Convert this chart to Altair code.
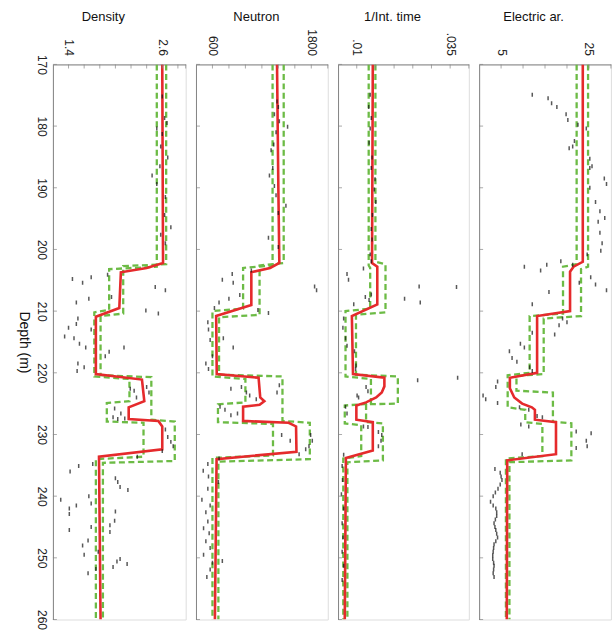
import altair as alt
import pandas as pd

DEPTH_DOMAIN = [170, 260]
DEPTH_TICKS = [170, 180, 190, 200, 210, 220, 230, 240, 250, 260]

# ---------------- Density ----------------
DEN_DOMAIN = [1.2, 2.9]
DEN_LABELS = [1.4, 2.6]
DEN_MINOR = [1.4, 1.6, 1.8, 2.0, 2.2, 2.4, 2.6, 2.8, 2.9]
DEN_RED = [(170, 2.60), (202.2, 2.61), (203.0, 2.40), (203.7, 2.07), (209.5, 2.05), (210.9, 1.75),
           (220.2, 1.75), (221.1, 2.34), (224.6, 2.37), (225.6, 2.17), (227.5, 2.17), (227.8, 2.55),
           (228.7, 2.60), (232.4, 2.60), (233.6, 1.79), (260, 1.81)]
DEN_LO = [(170, 2.53), (202.8, 2.53), (203.2, 1.92), (209.8, 1.92), (210.2, 1.73), (220.6, 1.73),
          (221.0, 2.18), (224.6, 2.18), (224.9, 1.89), (227.9, 1.89), (228.1, 2.36), (233.6, 2.36),
          (234.0, 1.75), (260, 1.75)]
DEN_HI = [(170, 2.65), (202.4, 2.65), (202.7, 2.10), (210.4, 2.10), (210.8, 1.81), (220.4, 1.81),
          (220.7, 2.46), (227.6, 2.46), (227.9, 2.76), (234.3, 2.76), (234.6, 1.84), (260, 1.84)]
DEN_PTS = [(175.2, 2.60), (178.7, 2.63), (179.5, 2.66), (180.4, 2.53), (181.3, 2.60), (183.3, 2.58),
           (185.1, 2.67), (186.5, 2.57), (188.0, 2.47), (189.4, 2.53), (191.5, 2.64), (194.4, 2.63),
           (196.4, 2.71), (197.6, 2.58), (199.0, 2.64),
           (204.8, 1.45), (205.4, 1.58), (204.5, 1.69), (204.1, 1.90), (206.1, 2.51), (206.6, 2.64),
           (208.6, 1.50), (208.0, 1.66), (207.7, 1.95), (209.9, 2.39), (210.4, 2.55),
           (211.2, 1.52), (212.1, 1.50), (212.7, 1.40), (214.1, 1.35), (214.4, 1.47), (215.3, 1.54),
           (215.9, 1.62), (213.0, 1.69), (217.3, 1.87), (216.6, 1.92), (215.9, 2.11), (218.5, 1.52),
           (219.1, 1.60), (219.7, 1.51),
           (222.6, 2.19), (222.9, 2.24), (222.3, 2.40), (223.2, 2.43), (224.0, 2.27), (225.8, 1.99),
           (226.6, 2.07), (227.4, 2.12), (227.2, 1.97), (227.5, 2.03),
           (229.2, 2.64), (230.4, 2.67), (231.2, 2.71), (231.9, 2.74), (232.7, 2.60), (233.6, 2.28),
           (234.8, 1.71), (235.1, 1.53), (236.0, 1.42), (237.1, 2.00), (237.7, 2.03), (238.5, 2.06),
           (239.0, 2.16), (240.6, 1.30), (240.0, 1.66), (241.2, 1.69), (241.5, 1.50), (242.0, 1.41),
           (242.9, 1.41), (242.5, 2.00), (244.0, 1.99), (244.7, 1.93), (245.5, 1.41), (245.0, 1.69),
           (245.8, 1.93), (247.2, 1.65), (248.0, 1.58), (249.5, 1.60), (249.0, 1.78), (250.2, 2.06),
           (250.6, 2.02), (251.5, 1.97), (251.0, 2.15), (252.5, 1.65), (251.8, 1.75)]

# ---------------- Neutron ----------------
NEU_DOMAIN = [400, 2000]
NEU_LABELS = [600, 1800]
NEU_MINOR = [600, 800, 1000, 1200, 1400, 1600, 1800, 2000]
NEU_RED = [(170, 1384), (180, 1392), (190, 1400), (202.2, 1412), (203.0, 1300), (203.7, 1072),
           (209.0, 1072), (210.8, 645), (220.2, 652), (220.8, 1160), (224.0, 1180), (224.6, 1230),
           (225.2, 1172), (225.5, 972), (227.8, 972), (228.1, 1525), (228.7, 1615), (232.8, 1620),
           (234.0, 650), (260, 630)]
NEU_LO = [(170, 1330), (202.6, 1330), (203.0, 972), (209.6, 972), (210.0, 600), (220.6, 600),
          (221.0, 1000), (224.8, 1000), (225.1, 667), (228.0, 667), (228.3, 1335), (233.4, 1335),
          (233.8, 600), (260, 600)]
NEU_HI = [(170, 1465), (202.2, 1465), (202.6, 1172), (210.6, 1172), (211.0, 680), (220.3, 680),
          (220.6, 1450), (227.8, 1450), (228.1, 1782), (234.0, 1782), (234.4, 672), (260, 672)]
NEU_PTS = [(176.0, 1384), (176.9, 1400), (178.1, 1352), (179.2, 1412), (180.1, 1512), (181.0, 1372),
           (183.0, 1344), (183.9, 1312), (188.0, 1292), (186.8, 1332), (189.7, 1352), (191.2, 1372),
           (192.9, 1492), (194.1, 1400), (198.1, 1280), (199.6, 1400),
           (203.4, 1072), (204.0, 840), (204.9, 720), (205.4, 852), (207.4, 932), (208.0, 800),
           (208.6, 680), (209.5, 624), (206.0, 1840), (206.6, 1864), (210.3, 1280), (209.8, 1152),
           (211.8, 544), (213.0, 552), (214.7, 572), (214.4, 732), (215.9, 852), (217.3, 600),
           (218.5, 520), (219.4, 552),
           (222.6, 824), (222.3, 952), (223.2, 1012), (223.7, 1052), (224.3, 1132), (222.0, 1412),
           (223.2, 1384), (225.5, 692), (226.0, 752), (226.9, 824), (226.6, 904),
           (230.1, 1440), (231.0, 1544), (230.1, 1792), (231.0, 1812), (231.9, 1772), (232.4, 1732),
           (233.2, 1652), (233.9, 680),
           (234.8, 544), (235.9, 488), (236.8, 552), (237.7, 672), (238.8, 544), (240.6, 472),
           (241.5, 572), (242.6, 520), (244.1, 544), (245.2, 492), (246.0, 560), (247.3, 520),
           (248.4, 572), (249.5, 492), (250.5, 720), (250.8, 600), (251.9, 572), (253.1, 532)]

# ---------------- 1/Int. time ----------------
INT_DOMAIN = [0.005, 0.04]
INT_LABELS = [0.01, 0.035]
INT_MINOR = [0.01, 0.015, 0.02, 0.025, 0.03, 0.035, 0.04]
INT_RED = [(170, 0.0143), (202.2, 0.0141), (202.8, 0.0155), (208.9, 0.0155), (210.8, 0.0087),
           (220.2, 0.0090), (220.8, 0.0174), (222.2, 0.0174), (223.2, 0.0167), (224.0, 0.0152),
           (224.8, 0.0125), (225.3, 0.0099), (227.6, 0.0099), (228.0, 0.0143), (232.6, 0.0143),
           (233.8, 0.0071), (260, 0.0068)]
INT_LO = [(170, 0.0132), (202.6, 0.0132), (203.0, 0.0136), (209.6, 0.0136), (210.0, 0.0070),
          (220.6, 0.0070), (221.0, 0.0138), (225.0, 0.0138), (225.3, 0.0068), (228.2, 0.0068),
          (228.5, 0.0112), (233.5, 0.0112), (233.9, 0.0064), (260, 0.0064)]
INT_HI = [(170, 0.0150), (202.0, 0.0150), (202.4, 0.0177), (210.2, 0.0177), (210.6, 0.0098),
          (220.3, 0.0098), (220.6, 0.0210), (225.0, 0.0210), (225.1, 0.0125), (228.0, 0.0125),
          (228.2, 0.0170), (234.2, 0.0170), (234.5, 0.0075), (260, 0.0075)]
INT_PTS = [(174.9, 0.0136), (176.9, 0.0132), (178.7, 0.0139), (180.4, 0.0136), (182.7, 0.0133),
           (185.1, 0.0141), (186.8, 0.0139), (188.6, 0.0149), (190.3, 0.0147), (192.3, 0.0151),
           (194.4, 0.0142), (196.7, 0.0139), (198.4, 0.0141), (200.8, 0.0136), (201.9, 0.0139),
           (204.0, 0.0074), (204.9, 0.0078), (203.1, 0.0118), (207.7, 0.0123), (207.3, 0.0139),
           (208.2, 0.0133), (208.9, 0.0092), (206.0, 0.0267), (206.1, 0.0367), (208.0, 0.0228),
           (208.6, 0.0270),
           (211.2, 0.0065), (212.7, 0.0063), (214.4, 0.0070), (215.6, 0.0074), (216.5, 0.0094),
           (218.8, 0.0098), (219.4, 0.0097),
           (221.2, 0.0263), (220.8, 0.0370), (222.3, 0.0125), (223.0, 0.0130), (223.7, 0.0101),
           (224.0, 0.0105), (225.5, 0.0070), (226.6, 0.0074), (228.7, 0.0118), (228.8, 0.0130),
           (229.6, 0.0158), (230.1, 0.0167), (231.0, 0.0165), (231.9, 0.0158), (233.3, 0.0065),
           (235.1, 0.0061), (237.4, 0.0062), (239.7, 0.0059), (242.0, 0.0065), (244.4, 0.0061),
           (246.7, 0.0063), (249.0, 0.0061), (251.3, 0.0065), (253.6, 0.0061)]

# ---------------- Electric ar. ----------------
ELE_DOMAIN = [0, 30]
ELE_LABELS = [5, 25]
ELE_MINOR = [5, 10, 15, 20, 25, 30]
ELE_RED = [(170, 23.6), (202.0, 23.6), (202.8, 21.5), (203.6, 20.7), (210.0, 20.7), (210.8, 13.2),
           (220.0, 13.2), (220.8, 7.0), (222.5, 7.0), (224.0, 8.0), (225.0, 9.8), (225.6, 12.0),
           (226.0, 12.7), (227.6, 12.7), (228.0, 17.5), (233.2, 17.5), (234.2, 6.4), (260, 6.3)]
ELE_LO = [(170, 22.2), (202.4, 22.2), (202.8, 19.1), (210.4, 19.1), (210.8, 11.5), (220.0, 11.5),
          (220.4, 6.5), (225.6, 6.5), (226.0, 10.5), (228.0, 10.5), (228.3, 14.4), (233.5, 14.4),
          (233.9, 6.1), (260, 6.1)]
ELE_HI = [(170, 24.8), (202.8, 24.8), (203.2, 23.2), (210.8, 23.2), (211.2, 14.7), (220.2, 14.7),
          (220.5, 8.5), (222.9, 8.5), (223.2, 16.8), (227.9, 16.8), (228.2, 21.0), (234.2, 21.0),
          (234.5, 6.9), (260, 6.9)]
ELE_PTS = [(174.9, 12.1), (175.5, 15.7), (176.3, 16.5), (176.9, 17.7), (178.1, 19.8), (179.0, 20.2),
           (179.8, 22.5), (180.4, 24.4), (182.4, 21.7), (183.3, 21.3), (183.6, 20.5), (185.3, 25.2),
           (186.5, 25.7), (186.8, 25.2), (188.5, 28.5), (189.4, 29.0), (190.0, 25.2), (192.3, 26.5),
           (193.8, 27.5), (194.9, 28.6), (195.5, 27.1), (197.3, 27.5), (199.0, 28.0), (200.2, 27.7),
           (200.8, 24.6),
           (202.8, 10.3), (203.4, 14.0), (202.5, 15.4), (201.9, 18.6), (202.5, 21.3), (204.5, 25.4),
           (205.7, 26.5), (206.6, 29.0), (205.4, 22.8), (206.9, 15.9), (208.9, 12.1), (211.2, 19.0),
           (211.8, 20.0), (212.3, 18.2), (213.8, 17.2),
           (213.5, 12.1), (215.3, 9.4), (215.9, 10.3), (216.5, 6.9), (217.6, 7.5), (218.2, 8.6),
           (219.1, 11.5), (219.7, 12.1),
           (221.4, 4.2), (222.3, 3.8), (223.7, 0.9), (224.3, 1.5), (224.9, 4.2), (225.6, 9.2),
           (226.0, 11.3), (227.0, 13.2), (227.2, 14.4), (228.4, 9.5), (228.7, 11.3),
           (229.5, 22.1), (229.8, 25.5), (231.0, 24.4), (232.2, 22.1), (231.9, 24.6), (233.2, 9.8),
           (235.6, 3.6), (236.2, 4.8), (236.8, 5.0), (237.4, 5.2), (238.1, 4.8), (238.8, 4.3),
           (239.4, 3.7), (240.0, 3.2), (240.9, 2.6), (241.5, 3.2), (242.0, 3.8), (242.6, 4.0),
           (243.2, 4.0), (243.8, 3.7), (244.4, 3.4), (245.0, 3.6), (245.5, 3.8), (246.1, 4.0),
           (246.7, 4.2), (247.3, 3.8), (247.8, 3.4), (248.4, 3.3), (249.0, 3.2), (249.6, 3.1),
           (250.2, 3.1), (250.8, 3.3), (251.3, 3.4), (251.9, 3.3), (252.5, 3.2), (253.1, 3.4)]

RED = "#e52a2c"
GREEN = "#6cbb45"
AXC = "#858585"
FONT = "Liberation Sans"
PANEL_H = 556


def path_df(pairs, name):
    return pd.DataFrame({"series": name, "idx": list(range(len(pairs))),
                         "depth": [p[0] for p in pairs], "value": [p[1] for p in pairs]})


def panel(name, domain, labels, minor, red, lo, hi, pts, label_fmt, title_x, width,
          first=False, strip_zero=False):
    xs = alt.Scale(domain=domain, nice=False, zero=False)
    ys = alt.Scale(domain=DEPTH_DOMAIN, reverse=True, nice=False, zero=False)
    xkw = dict(orient="top", values=labels, ticks=False, grid=False, domainColor=AXC,
               labelAngle=90, labelPadding=9, format=label_fmt, labelFontSize=12,
               labelFont=FONT, labelColor="#222222",
               title=name, titleX=title_x, titleY=-44, titleAlign="center",
               titleBaseline="alphabetic", titleFontWeight="normal", titleFontSize=13,
               titleFont=FONT, titleColor="#111111")
    if strip_zero:
        xkw["labelExpr"] = "replace(datum.label, '0.', '.')"
    xaxis = alt.Axis(**xkw)
    if first:
        yaxis = alt.Axis(values=DEPTH_TICKS, ticks=False, grid=False, domainColor=AXC,
                         labelAngle=90, labelPadding=6, labelFontSize=12, labelFlush=True,
                         labelFont=FONT, labelColor="#222222",
                         title="Depth (m)", titleAngle=90, titleX=-29, titleY=PANEL_H / 2,
                         titleAlign="center", titleBaseline="middle", titleFontWeight="normal",
                         titleFontSize=14, titleFont=FONT, titleColor="#111111")
    else:
        yaxis = alt.Axis(labels=False, ticks=False, grid=False, domainColor=AXC, title=None)

    green_df = pd.concat([path_df(lo, "lo"), path_df(hi, "hi")])
    red_df = path_df(red, "red")
    pts_df = pd.DataFrame({"depth": [p[0] for p in pts], "value": [p[1] for p in pts]})
    top_df = pd.DataFrame({"value": minor})
    left_df = pd.DataFrame({"depth": DEPTH_TICKS})

    green_layer = alt.Chart(green_df).mark_line(color=GREEN, strokeWidth=2.3, strokeDash=[6, 3.5],
                                                clip=True).encode(
        x=alt.X("value:Q", scale=xs, axis=xaxis),
        y=alt.Y("depth:Q", scale=ys, axis=yaxis),
        detail="series:N", order="idx:Q")
    red_layer = alt.Chart(red_df).mark_line(color=RED, strokeWidth=2.6, clip=True).encode(
        x=alt.X("value:Q", scale=xs), y=alt.Y("depth:Q", scale=ys), order="idx:Q")
    pts_layer = alt.Chart(pts_df).mark_tick(orient="vertical", size=4, thickness=1.5,
                                            color="#111111", clip=True).encode(
        x=alt.X("value:Q", scale=xs), y=alt.Y("depth:Q", scale=ys))
    top_ticks = alt.Chart(top_df).mark_tick(orient="vertical", size=4, thickness=1,
                                            color=AXC).encode(
        x=alt.X("value:Q", scale=xs), y=alt.value(2))
    left_ticks = alt.Chart(left_df).mark_tick(orient="horizontal", size=4, thickness=1,
                                              color=AXC).encode(
        y=alt.Y("depth:Q", scale=ys), x=alt.value(2))
    return alt.layer(green_layer, red_layer, pts_layer, top_ticks,
                     left_ticks).properties(width=width, height=PANEL_H)


den = panel("Density", DEN_DOMAIN, DEN_LABELS, DEN_MINOR, DEN_RED, DEN_LO, DEN_HI, DEN_PTS,
            ".1f", 50, 133, first=True)
neu = panel("Neutron", NEU_DOMAIN, NEU_LABELS, NEU_MINOR, NEU_RED, NEU_LO, NEU_HI, NEU_PTS,
            "d", 60, 132)
inv = panel("1/Int. time", INT_DOMAIN, INT_LABELS, INT_MINOR, INT_RED, INT_LO, INT_HI, INT_PTS,
            ".3~f", 54, 131, strip_zero=True)
ele = panel("Electric ar.", ELE_DOMAIN, ELE_LABELS, ELE_MINOR, ELE_RED, ELE_LO, ELE_HI, ELE_PTS,
            "d", 54, 132)

chart = alt.hconcat(den, neu, inv, ele, spacing=10.3, bounds="flush").properties(
    padding={"left": 16, "top": 9, "right": 0, "bottom": 0}
).configure_view(stroke=None).configure(background="white")

chart.save("out.html", embed_options={"renderer": "svg", "actions": False})
